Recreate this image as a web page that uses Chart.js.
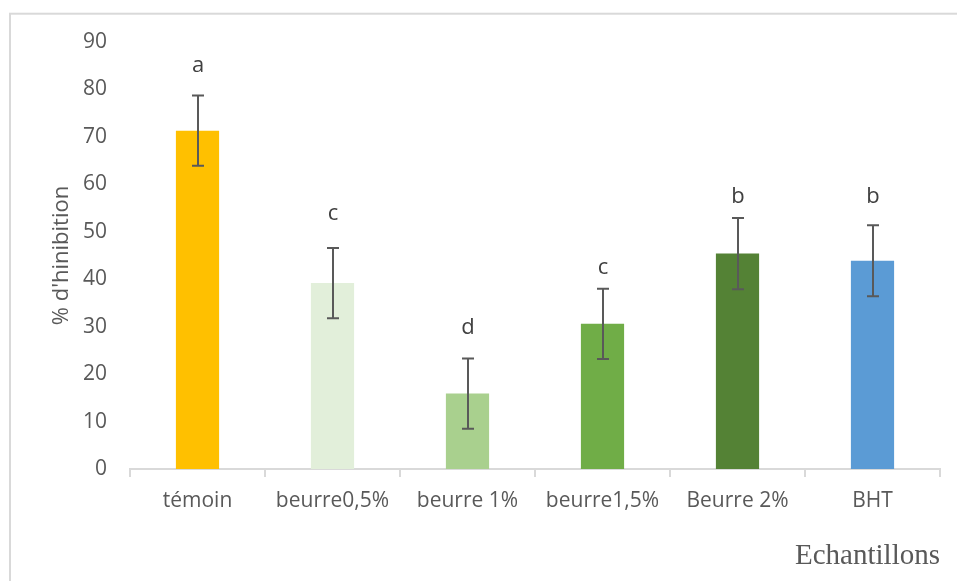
<!DOCTYPE html>
<html>
<head>
<meta charset="utf-8">
<script src="https://cdn.jsdelivr.net/npm/chart.js@4"></script>
<style>
  body { margin: 0; background: #fff; }
  #wrap { width: 957px; height: 581px; }
</style>
</head>
<body>
<div id="wrap"><canvas id="myChart" width="957" height="581"></canvas></div>
<script>
// valeurs
const categories = ['témoin', 'beurre0,5%', 'beurre 1%', 'beurre1,5%', 'Beurre 2%', 'BHT'];
const inhibition = [71.3, 39.2, 15.9, 30.6, 45.4, 43.9];
const erreurs = [7.4, 7.4, 7.4, 7.4, 7.5, 7.5];
const lettres = ['a', 'c', 'd', 'c', 'b', 'b'];
const hauteurLettres = [84.9, 53.9, 29.8, 42.4, 57.3, 57.3];
const couleurs = ['#FFC000', '#E2EFDA', '#A9D08E', '#70AD47', '#548235', '#5B9BD5'];
const yMin = 0, yMax = 90, yPas = 10;

const gris = '#595959';

const cadre = {
    id: 'cadre',
    beforeDraw(chart) {
        const c = chart.ctx;
        c.save();
        c.strokeStyle = '#d9d9d9';
        c.lineWidth = 2;
        c.strokeRect(10, 13.7, 990, 620);
        c.restore();
    }
};

const barresErreur = {
    id: 'barresErreur',
    afterDatasetsDraw(chart) {
        const c = chart.ctx;
        const y = chart.scales.y;
        const meta = chart.getDatasetMeta(0);
        c.save();
        meta.data.forEach((bar, i) => {
            const x = Math.round(bar.x);
            const haut = y.getPixelForValue(inhibition[i] + erreurs[i]);
            const bas = y.getPixelForValue(inhibition[i] - erreurs[i]);
            c.strokeStyle = gris;
            c.lineWidth = 2;
            c.beginPath();
            c.moveTo(x, haut);
            c.lineTo(x, bas);
            c.moveTo(x - 6, haut);
            c.lineTo(x + 6, haut);
            c.moveTo(x - 6, bas);
            c.lineTo(x + 6, bas);
            c.stroke();

            c.fillStyle = '#404040';
            c.font = '22px "Open Sans"';
            c.textAlign = 'center';
            c.textBaseline = 'middle';
            c.fillText(lettres[i], x, y.getPixelForValue(hauteurLettres[i]));
        });
        c.restore();
    }
};

new Chart(document.getElementById('myChart'), {
    type: 'bar',
    data: {
        labels: categories,
        datasets: [{
            data: inhibition,
            backgroundColor: couleurs,
            borderWidth: 0,
            barPercentage: 0.32,
            categoryPercentage: 1
        }]
    },
    options: {
        responsive: false,
        animation: false,
        layout: { padding: { left: 0, right: 17, top: 42, bottom: 0 } },
        plugins: {
            legend: { display: false },
            tooltip: { enabled: false }
        },
        scales: {
            x: {
                grid: { display: true, drawOnChartArea: false, color: '#d9d9d9', lineWidth: 2, tickLength: 8 },
                border: { display: true, color: '#d9d9d9', width: 2 },
                ticks: { color: gris, font: { family: 'Open Sans', size: 21 }, padding: 11.4 },
                title: {
                    display: true,
                    text: 'Echantillons',
                    align: 'end',
                    color: gris,
                    font: { family: 'Liberation Serif', size: 29 },
                    padding: { top: 0, bottom: 7.6 }
                },
                afterFit(scale) { scale.height = 112; }
            },
            y: {
                min: yMin,
                max: yMax,
                grid: { display: false, drawTicks: false },
                border: { display: false },
                ticks: { stepSize: yPas, color: gris, font: { family: 'Open Sans', size: 21 }, padding: 23 },
                title: {
                    display: true,
                    text: "% d'hinibition",
                    color: gris,
                    font: { family: 'Open Sans', size: 22 },
                    padding: { top: 48.8, bottom: 0 }
                },
                afterFit(scale) { scale.width = 130; }
            }
        }
    },
    plugins: [cadre, barresErreur]
});
</script>
</body>
</html>
